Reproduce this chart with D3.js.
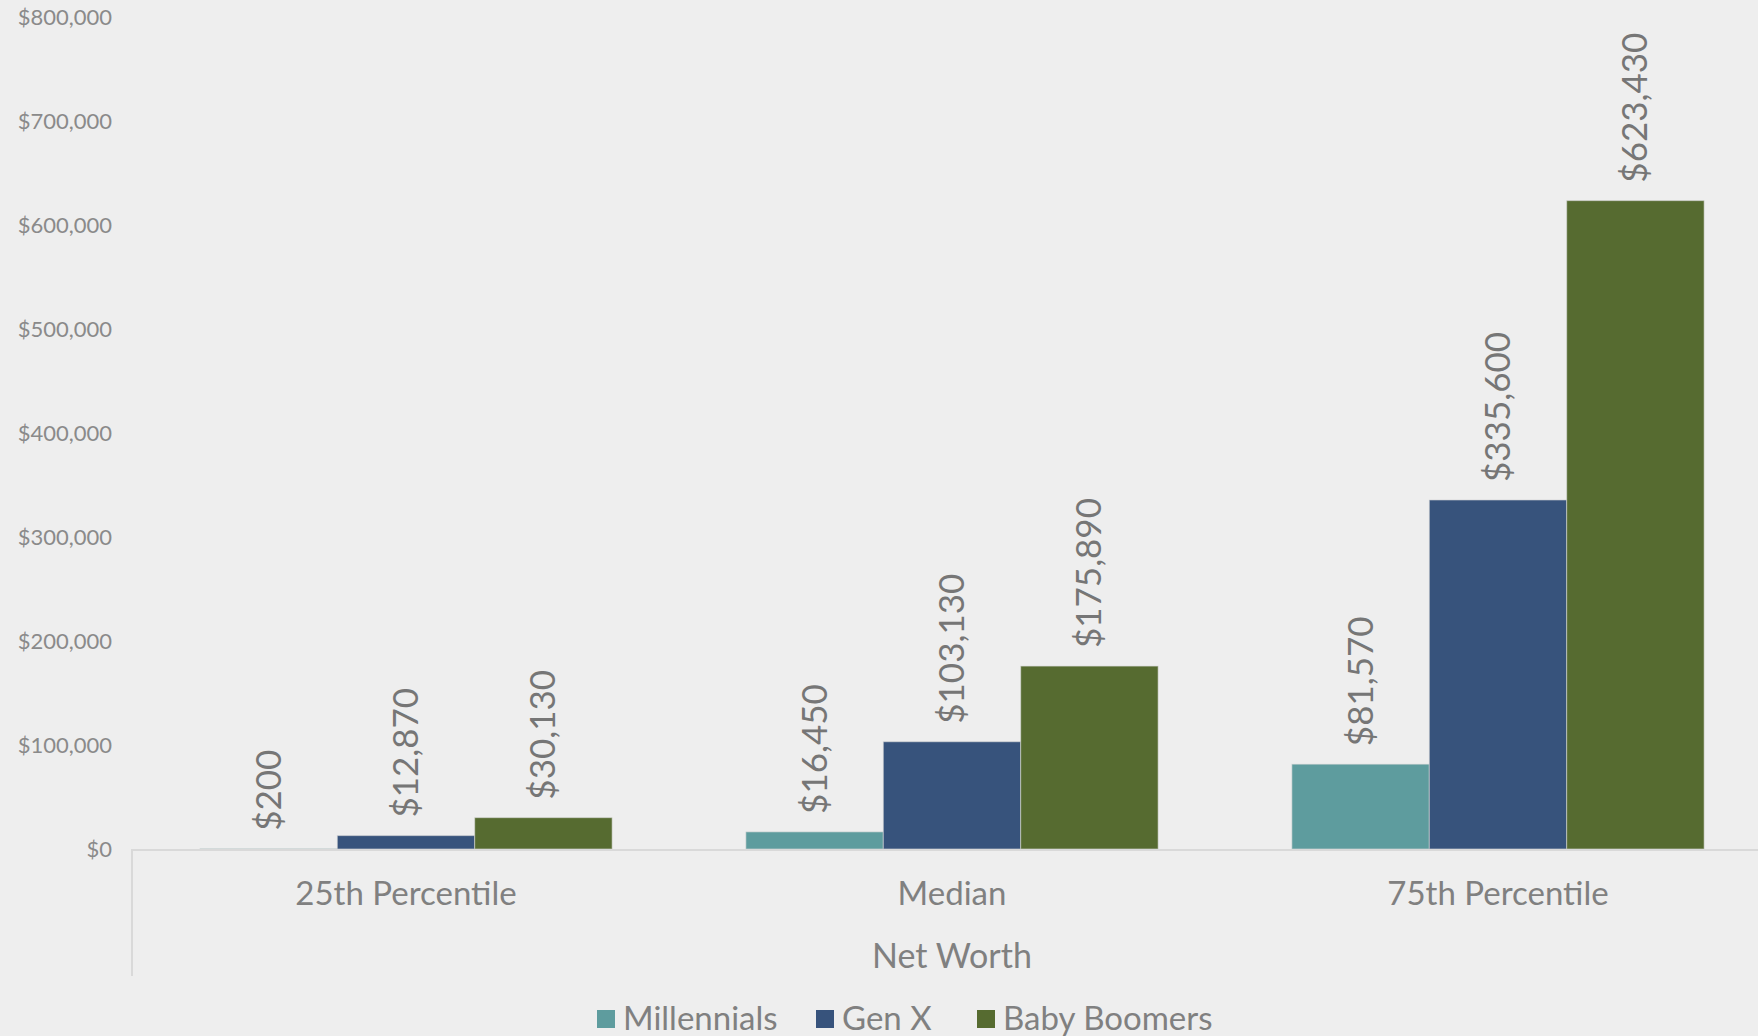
<!DOCTYPE html>
<html>
<head>
<meta charset="utf-8">
<script src="https://cdn.jsdelivr.net/npm/d3@7"></script>
<style>
  html, body { margin: 0; padding: 0; background: #eeeeee; overflow: hidden; }
  svg { display: block; }
</style>
</head>
<body>
<svg id="chart" width="1758" height="1036"></svg>
<script>
// Net worth by generation
const categories = ["25th Percentile", "Median", "75th Percentile"];
const seriesNames = ["Millennials", "Gen X", "Baby Boomers"];
const millennials = [200, 16450, 81570];
const genX = [12870, 103130, 335600];
const babyBoomers = [30130, 175890, 623430];
const yTicks = [0, 100000, 200000, 300000, 400000, 500000, 600000, 700000, 800000];
const axisTitle = "Net Worth";
const colors = ["#5e9c9e", "#37537c", "#566b30"];

const seriesValues = [millennials, genX, babyBoomers];
const rows = categories.map((c, i) => ({
  category: c,
  values: seriesNames.map((s, j) => ({ series: s, value: seriesValues[j][i], idx: j }))
}));

const svg = d3.select("#chart");
const W = 1758, H = 1036;
const plot = { left: 133, right: 1771, top: 17, bottom: 849 };
const font = "Lato, 'Open Sans', sans-serif";

svg.append("rect").attr("width", W).attr("height", H).attr("fill", "#eeeeee");

const x0 = d3.scaleBand().domain(categories).range([plot.left, plot.right]).paddingInner(0.245).paddingOuter(0.1225);
const x1 = d3.scaleBand().domain(seriesNames).range([0, x0.bandwidth()]);
const y = d3.scaleLinear().domain([0, 800000]).range([plot.bottom, plot.top]);

const fmt = d3.format("$,");

// Value axis labels
const yAxis = d3.axisLeft(y).tickValues(yTicks).tickFormat(fmt).tickSize(0).tickPadding(0);
const gy = svg.append("g").attr("transform", `translate(112,0)`).call(yAxis);
gy.select(".domain").remove();
gy.selectAll("text")
  .attr("fill", "#8a8a8a")
  .style("font-family", font)
  .style("font-size", "22px");

// Bars
const groups = svg.append("g").selectAll("g")
  .data(rows).join("g")
  .attr("transform", d => `translate(${x0(d.category)},0)`);

groups.selectAll("rect")
  .data(d => d.values).join("rect")
  .attr("x", d => x1(d.series))
  .attr("y", d => y(d.value))
  .attr("width", x1.bandwidth())
  .attr("height", d => y(0) - y(d.value))
  .attr("fill", d => colors[d.idx])
  .attr("stroke", "#d8d8d8")
  .attr("stroke-opacity", 0.6)
  .attr("stroke-width", 1);

// Rotated value labels above each bar
groups.selectAll("text")
  .data(d => d.values).join("text")
  .attr("transform", d => `translate(${x1(d.series) + x1.bandwidth() / 2 + 12},${y(d.value) - 18}) rotate(-90)`)
  .attr("text-anchor", "start")
  .attr("fill", "#767676")
  .style("font-family", font)
  .style("font-size", "35px")
  .text(d => fmt(d.value));

// Category axis baseline and left boundary
svg.append("line")
  .attr("x1", 132).attr("x2", W).attr("y1", y(0) + 1).attr("y2", y(0) + 1)
  .attr("stroke", "#d9d9d9").attr("stroke-width", 2);
svg.append("line")
  .attr("x1", 132).attr("x2", 132).attr("y1", y(0)).attr("y2", 976)
  .attr("stroke", "#d9d9d9").attr("stroke-width", 2);

// Category labels
svg.append("g").selectAll("text")
  .data(categories).join("text")
  .attr("x", d => x0(d) + x0.bandwidth() / 2)
  .attr("y", 905)
  .attr("text-anchor", "middle")
  .attr("fill", "#808080")
  .style("font-family", font)
  .style("font-size", "33px")
  .text(d => d);

// Axis title
svg.append("text")
  .attr("x", x0(categories[1]) + x0.bandwidth() / 2)
  .attr("y", 968)
  .attr("text-anchor", "middle")
  .attr("fill", "#808080")
  .style("font-family", font)
  .style("font-size", "34px")
  .text(axisTitle);

// Legend
const legendX = [597, 816, 977];
const legend = svg.append("g").selectAll("g")
  .data(seriesNames).join("g")
  .attr("transform", (d, i) => `translate(${legendX[i]},1010)`);
legend.append("rect")
  .attr("width", 18).attr("height", 18)
  .attr("fill", (d, i) => colors[i]);
legend.append("text")
  .attr("x", 26).attr("y", 20)
  .attr("fill", "#808080")
  .style("font-family", font)
  .style("font-size", "33px")
  .text(d => d);
</script>
</body>
</html>
